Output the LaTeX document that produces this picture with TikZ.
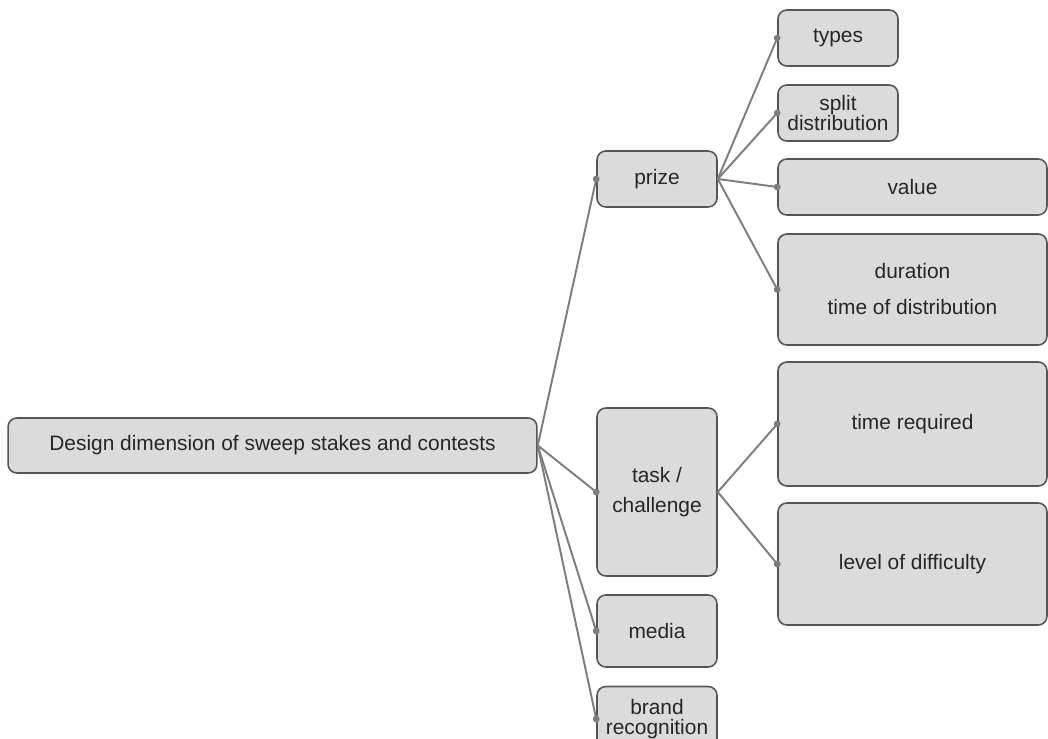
\documentclass[tikz,border=0pt]{standalone}
\usepackage{fontspec}
\setmainfont{Liberation Sans}
\usetikzlibrary{positioning, shapes, arrows.meta}

\definecolor{boxfill}{RGB}{220,219,220}
\definecolor{boxline}{RGB}{85,85,85}
\definecolor{linkgray}{RGB}{125,125,125}

\begin{document}
\begin{tikzpicture}[x=0.02cm, y=-0.02cm,
		dim/.style={rectangle, rounded corners=5pt, draw=boxline, line width=0.9pt, fill=boxfill, align=center,
			text=black!85, font=\fontsize{11.9}{13}\selectfont, inner sep=2pt},
		small/.style={dim, minimum width=2.4cm, minimum height=1.12cm},
		wide/.style={dim, minimum width=5.38cm},
		link/.style={draw=linkgray, line width=1.1pt, -{Circle[length=3.8pt]}, shorten >=-1.9pt}]
	\useasboundingbox (0,0) rectangle (1048,739);
	\clip (0,0) rectangle (1048,739);

	% Radice
	\node[dim, minimum width=10.58cm, minimum height=1.1cm] (root) at (272.5,445.5) {Design dimension of sweep stakes and contests};

	% Primo livello
	\node[small] (prize) at (657,179) {prize};
	\node[dim, minimum width=2.4cm, minimum height=3.36cm, font=\fontsize{11.9}{17}\selectfont] (task) at (657,492) {task /\\challenge};
	\node[dim, minimum width=2.4cm, minimum height=1.44cm] (media) at (657,631) {media};
	\node[dim, minimum width=2.4cm, minimum height=1.3cm, font=\fontsize{11.9}{11.5}\selectfont] (brand) at (657,719) {brand\\recognition};

	% Premio
	\node[small] (types) at (838,38) {types};
	\node[small, font=\fontsize{11.9}{11.5}\selectfont] (split) at (838,113) {split\\distribution};
	\node[wide, minimum height=1.12cm] (value) at (912.5,187) {value};
	\node[wide, minimum height=2.22cm, font=\fontsize{11.9}{20.5}\selectfont] (duration) at (912.5,289.5) {duration\\time of distribution};

	% Compito
	\node[wide, minimum height=2.48cm] (timereq) at (912.5,424) {time required};
	\node[wide, minimum height=2.44cm] (level) at (912.5,564) {level of difficulty};

	% Collegamenti
	\draw[link] (root.east) -- (prize.west);
	\draw[link] (root.east) -- (task.west);
	\draw[link] (root.east) -- (media.west);
	\draw[link] (root.east) -- (brand.west);
	\foreach \leaf in {types, split, value, duration}
		\draw[link] (prize.east) -- (\leaf.west);
	\foreach \leaf in {timereq, level}
		\draw[link] (task.east) -- (\leaf.west);
\end{tikzpicture}
\end{document}
